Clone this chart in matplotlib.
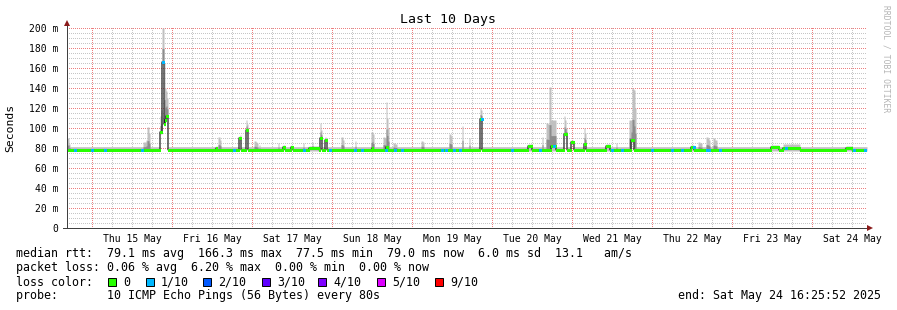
import numpy as np
import matplotlib
matplotlib.use("Agg")
from matplotlib import pyplot as plt
from matplotlib.collections import LineCollection
from matplotlib.patches import Rectangle

# time axis: hours since Thu 15 May 2025 00:00, graph ends Sat 24 May 16:25:52
t_end = 232.43
span_hours = 240.0
bin_hours = 0.3

day_labels = ["Thu 15 May", "Fri 16 May", "Sat 17 May", "Sun 18 May", "Mon 19 May",
              "Tue 20 May", "Wed 21 May", "Thu 22 May", "Fri 23 May", "Sat 24 May"]
y_ticks = [0, 20, 40, 60, 80, 100, 120, 140, 160, 180, 200]
y_tick_labels = ["0", "20 m", "40 m", "60 m", "80 m", "100 m", "120 m", "140 m",
                 "160 m", "180 m", "200 m"]

# normal state of the link (ms)
base_median = 78.2
base_lo = 77.0
base_hi = 81.3

# latency spikes: hour, median rtt (ms), top of smoke (ms)
spike_hours = [20.4, 20.7, 21.0, 21.3, 21.6, 21.9, 22.2, 22.5, 37.2, 44.1, 44.4,
               46.2, 46.5, 57.3, 57.6, 59.7, 60.0, 68.4, 68.7, 69.9, 70.2, 84.0,
               88.2, 88.5, 116.4, 116.7, 141.6, 141.9, 142.2, 143.7, 144.0, 144.3,
               147.6, 147.9, 161.7, 162.0, 162.3]
spike_median = [96, 96, 166, 166, 104, 108, 112, 112, 80, 90, 90,
                98, 98, 81, 81, 81, 81, 90, 90, 88, 88, 80,
                81, 81, 109, 109, 94, 94, 94, 86, 86, 86,
                84, 84, 88, 88, 88]
spike_smoke = [112, 118, 200, 200, 165, 140, 137, 130, 82, 92, 93,
               108, 104, 83, 83, 83, 82, 105, 98, 91, 90, 96,
               126, 110, 120, 118, 112, 108, 100, 88, 88, 87,
               100, 95, 108, 140, 139]

# slightly raised plateaus: start hour, end hour, median, smoke top
plateau_start = [65.1, 130.8, 137.7, 154.2, 179.7, 203.7, 207.3, 226.2]
plateau_end = [67.8, 131.7, 138.9, 155.1, 180.3, 205.8, 212.1, 227.7]
plateau_median = [80, 82, 82, 82, 81, 81, 80, 80]
plateau_smoke = [82, 84, 108, 84, 83, 83, 84, 82]

# smoke only (jitter), median unchanged: hour, top of smoke (ms)
smoke_hours = [-7.5, -7.2, -6.9, 15.3, 15.6, 15.9, 16.2, 16.5, 16.8, 17.1,
               37.8, 38.1, 38.4, 48.6, 48.9, 49.2, 49.5, 50.1, 55.8, 63.3, 66.0,
               74.7, 75.0, 75.3, 78.9, 83.7, 84.3, 87.3, 87.6, 87.9, 88.8,
               90.3, 90.6, 90.9, 91.2, 98.7, 99.0, 99.3, 107.1, 107.4, 107.7,
               111.0, 113.1, 135.0, 136.2, 136.5, 136.8, 137.1, 137.4, 157.2,
               161.1, 161.4, 162.6, 162.9, 181.8, 182.1, 182.4, 182.7,
               184.2, 184.5, 184.8, 185.1, 186.3, 186.6, 186.9, 187.2]
smoke_tops = [90, 90, 84, 86, 86, 86, 88, 101, 101, 95,
              91, 91, 88, 87, 87, 86, 85, 83, 85, 85, 86,
              91, 91, 88, 87, 96, 94, 91, 91, 90, 100,
              85, 85, 84, 84, 87, 87, 86, 94, 94, 92,
              102, 90, 91, 105, 105, 104, 141, 141, 85,
              108, 108, 138, 120, 86, 86, 85, 85,
              91, 91, 90, 88, 90, 90, 88, 88]

# bins with 1/10 packet loss
loss1_hours = [-5.4, -0.3, 3.6, 14.7, 21.0, 42.3, 63.3, 71.1, 78.6, 80.7, 87.9,
               90.6, 92.7, 104.7, 105.9, 108.3, 110.1, 116.7, 125.7, 134.1, 138.3,
               155.7, 158.7, 167.7, 173.7, 176.7, 180.3, 184.2, 184.8, 188.1,
               207.9, 228.3, 231.6]

loss_colors = ["#26ff00", "#00b8ff", "#0059ff", "#5e00ff", "#7e00ff", "#dd00ff", "#ff0000"]
loss_names = ["0", "1/10", "2/10", "3/10", "4/10", "5/10", "9/10"]

MONO = "DejaVu Sans Mono"
W, H = 897, 310

t_start = t_end - span_hours
n_bins = int(round(span_hours / bin_hours))
edges = t_start + bin_hours * np.arange(n_bins + 1)


def bin_of(h):
    return int(round((h - t_start) / bin_hours))


median = np.full(n_bins, base_median)
lo = np.full(n_bins, base_lo)
hi = np.full(n_bins, base_hi)
loss = np.zeros(n_bins, dtype=int)

for s, e, m, top in zip(plateau_start, plateau_end, plateau_median, plateau_smoke):
    for k in range(bin_of(s), bin_of(e) + 1):
        median[k] = m
        hi[k] = top
for h, top in zip(smoke_hours, smoke_tops):
    hi[bin_of(h)] = top
for h, m, top in zip(spike_hours, spike_median, spike_smoke):
    k = bin_of(h)
    median[k] = m
    hi[k] = top
    lo[k] = m - 2
for h in loss1_hours:
    loss[bin_of(h)] = 1

fig = plt.figure(figsize=(W / 100, H / 100), dpi=100)
fig.patch.set_facecolor("white")
ax = fig.add_axes([67 / W, 82 / H, 800 / W, 200 / H])
ax.set_xlim(t_start, t_end)
ax.set_ylim(0, 200)
ax.patch.set_visible(False)
for sp in ax.spines.values():
    sp.set_visible(False)

# grid as a pixel raster placed 1:1 on the canvas: 1 px dots every second pixel
minor_rgba = (0.78, 0.78, 0.78, 1.0)
major_rgba = (0.93, 0.50, 0.50, 1.0)
grid = np.ones((200, 800, 4))
cols = np.arange(0, 800, 2)
rows = np.arange(0, 200, 2)
for y in range(5, 201, 5):
    grid[200 - y, cols] = major_rgba if y % 20 == 0 else minor_rgba
for h in range(0, int(t_end) + 1, 6):
    c = int(round((h - t_start) / span_hours * 800))
    grid[rows, c] = major_rgba if h % 24 == 0 else minor_rgba
fig.figimage(grid, xo=67, yo=82, origin="upper", zorder=-1)

# smoke
ax.fill_between(edges, np.append(lo, lo[-1]), np.append(hi, hi[-1]), step="post",
                color="#c0c0c0", lw=0, zorder=1)
core = np.where(hi - median > 4, median + 0.4 * (hi - median), median)
ax.fill_between(edges, np.append(median, median[-1]), np.append(core, core[-1]),
                step="post", color="#8c8c8c", lw=0, zorder=1.5)

# median line: dark steps, loss-coloured horizontal pieces on top
ax.step(edges, np.append(median, median[-1]), where="post", color="#202020", lw=0.9,
        zorder=2)
green = [[(edges[k], median[k]), (edges[k + 1], median[k])]
         for k in range(n_bins) if loss[k] == 0]
lossy = [[(edges[k] - 0.5 * bin_hours, median[k]), (edges[k + 1] + 0.5 * bin_hours, median[k])]
         for k in range(n_bins) if loss[k] == 1]
ax.add_collection(LineCollection(green, colors=loss_colors[0], linewidths=2.16, zorder=3,
                                 capstyle="butt", antialiased=False))
ax.add_collection(LineCollection(lossy, colors=loss_colors[1], linewidths=2.16, zorder=3.5,
                                 capstyle="butt", antialiased=False))

# ticks
ax.set_yticks(y_ticks)
ax.set_yticklabels(y_tick_labels, family=MONO, fontsize=7)
ax.set_xticks([12 + 24 * i for i in range(len(day_labels))])
ax.set_xticklabels(day_labels, family=MONO, fontsize=7)
ax.tick_params(axis="y", length=0, pad=6)
ax.tick_params(axis="x", length=0, pad=4)

# axes with arrows
px = span_hours / 800
ax.plot([t_start - 4 * px, t_end + 2 * px], [0, 0], color="#404040", lw=0.72,
        clip_on=False, zorder=4)
ax.plot([t_start, t_start], [0, 205], color="#404040", lw=0.72, clip_on=False, zorder=4)
ax.plot([t_start], [205.5], marker="^", ms=4, color="#8b1a1a", clip_on=False, zorder=5,
        mew=0)
ax.plot([t_end + 3 * px], [0], marker=">", ms=4, color="#8b1a1a", clip_on=False,
        zorder=5, mew=0)


def ftxt(x, y, s, **kw):
    kw.setdefault("family", MONO)
    kw.setdefault("fontsize", 8.4)
    kw.setdefault("va", "center")
    fig.text(x / W, 1 - y / H, s, **kw)


ftxt(448, 19, "Last 10 Days", ha="center", fontsize=9.5)
ftxt(10, 128, "Seconds", ha="center", rotation=90, fontsize=8.2)
ftxt(886, 5, "RRDTOOL / TOBI OETIKER", ha="center", va="top", rotation=270,
     fontsize=5.8, color="#b4b4b4")

ftxt(16, 254, "median rtt:  79.1 ms avg  166.3 ms max  77.5 ms min  79.0 ms now  "
     "6.0 ms sd  13.1   am/s")
ftxt(16, 268, "packet loss: 0.06 % avg  6.20 % max  0.00 % min  0.00 % now")
ftxt(16, 282, "loss color:")
box_x = [108, 146, 203, 262, 318, 377, 435]
for bx, c, name in zip(box_x, loss_colors, loss_names):
    fig.patches.append(Rectangle((bx / W, 1 - 286 / H), 8 / W, 8 / H, facecolor=c,
                                 edgecolor="black", lw=0.7, transform=fig.transFigure,
                                 figure=fig))
    ftxt(bx + 15, 282, name)
ftxt(16, 296, "probe:       10 ICMP Echo Pings (56 Bytes) every 80s")
ftxt(881, 296, "end: Sat May 24 16:25:52 2025", ha="right")

fig.savefig("out.png", dpi=100)
